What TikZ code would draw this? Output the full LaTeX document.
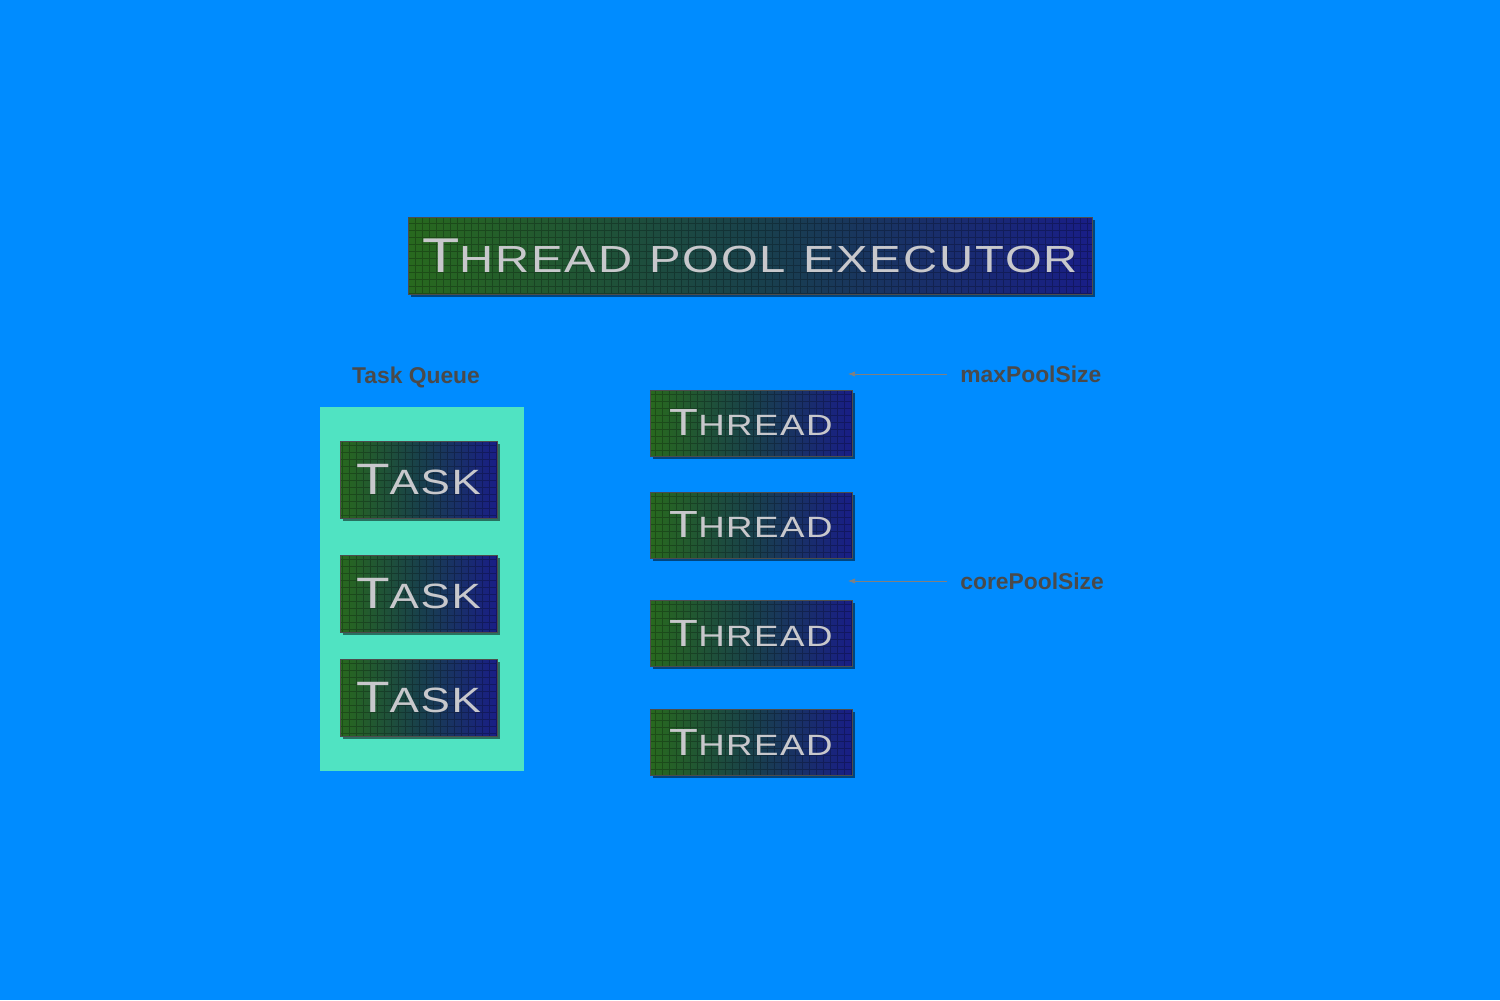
\documentclass[tikz,border=0pt]{standalone}
\usepackage{fontspec}
\setmainfont{Liberation Sans}
\newfontfamily\platefont[FakeStretch=1.25,LetterSpace=5]{Liberation Sans}
\usetikzlibrary{shadows,arrows.meta}
\definecolor{skyblue}{HTML}{008CFF}
\definecolor{queuegreen}{HTML}{50E3C2}
\definecolor{labelgray}{HTML}{4A4A4A}
\definecolor{plategreen}{RGB}{40,105,30}
\definecolor{platemid}{RGB}{25,65,75}
\definecolor{plateblue}{RGB}{25,30,135}
\definecolor{silver}{RGB}{200,200,204}
% big first letter, small rest
\newcommand{\platetext}[4]{\platefont{\fontsize{#1}{#1}\selectfont #3}{\fontsize{#2}{#2}\selectfont #4}}

\begin{document}
\begin{tikzpicture}[x=0.02cm, y=-0.02cm,
    plate/.style={%
        draw=black!70, line width=0.4pt,
        left color=plategreen, right color=plateblue, middle color=platemid,
        text=silver, inner sep=0pt,
        drop shadow={shadow xshift=0.06cm, shadow yshift=-0.06cm, fill=black, opacity=0.5},
        path picture={\draw[black, opacity=0.25, line width=0.35pt]
            (path picture bounding box.south west) grid[step=0.14cm]
            (path picture bounding box.north east);}},
    titleplate/.style={plate, minimum width=13.68cm, minimum height=1.54cm},
    taskplate/.style={plate, minimum width=3.14cm, minimum height=1.54cm},
    threadplate/.style={plate, minimum width=4.04cm, minimum height=1.32cm},
    sizelabel/.style={%
        font=\bfseries\fontsize{13}{13}\selectfont,
        text=labelgray, anchor=west, inner sep=0pt},
    pointer/.style={labelgray!70, line width=0.4pt, shorten <=0.26cm,
        -{Latex[length=4pt,width=3pt]}},
]
    %Background
    \fill[skyblue] (0,0) rectangle (1500,1000);
    %Title
    \node[titleplate] (title) at (750,255.5)
        {\platetext{27.8}{21.5}{T}{HREAD\hspace{0.45em}POOL\hspace{0.45em}EXECUTOR}};
    %Task queue
    \node[font=\bfseries\fontsize{13}{13}\selectfont, text=labelgray] (queuelbl) at (416,377) {Task Queue};
    \node[fill=queuegreen, minimum width=4.08cm, minimum height=7.28cm] (queue) at (422,589) {};
    \node[taskplate] (task1) at (418.5,479.5) {\platetext{25}{20}{T}{ASK}};
    \node[taskplate] (task2) at (418.5,593.5) {\platetext{25}{20}{T}{ASK}};
    \node[taskplate] (task3) at (418.5,697.5) {\platetext{25}{20}{T}{ASK}};
    %Threads
    \node[threadplate] (thread1) at (751,423) {\platetext{21.5}{16.7}{T}{HREAD}};
    \node[threadplate] (thread2) at (751,525) {\platetext{21.5}{16.7}{T}{HREAD}};
    \node[threadplate] (thread3) at (751,633) {\platetext{21.5}{16.7}{T}{HREAD}};
    \node[threadplate] (thread4) at (751,742) {\platetext{21.5}{16.7}{T}{HREAD}};
    %Pool sizes
    \node[sizelabel] (maxlbl) at (960,374) {maxPoolSize};
    \node[sizelabel] (corelbl) at (960,581) {corePoolSize};
    \coordinate (maxtip) at (848,374);
    \coordinate (coretip) at (848,581);
    \draw[pointer] (maxlbl.west) -- (maxtip);
    \draw[pointer] (corelbl.west) -- (coretip);
\end{tikzpicture}
\end{document}
